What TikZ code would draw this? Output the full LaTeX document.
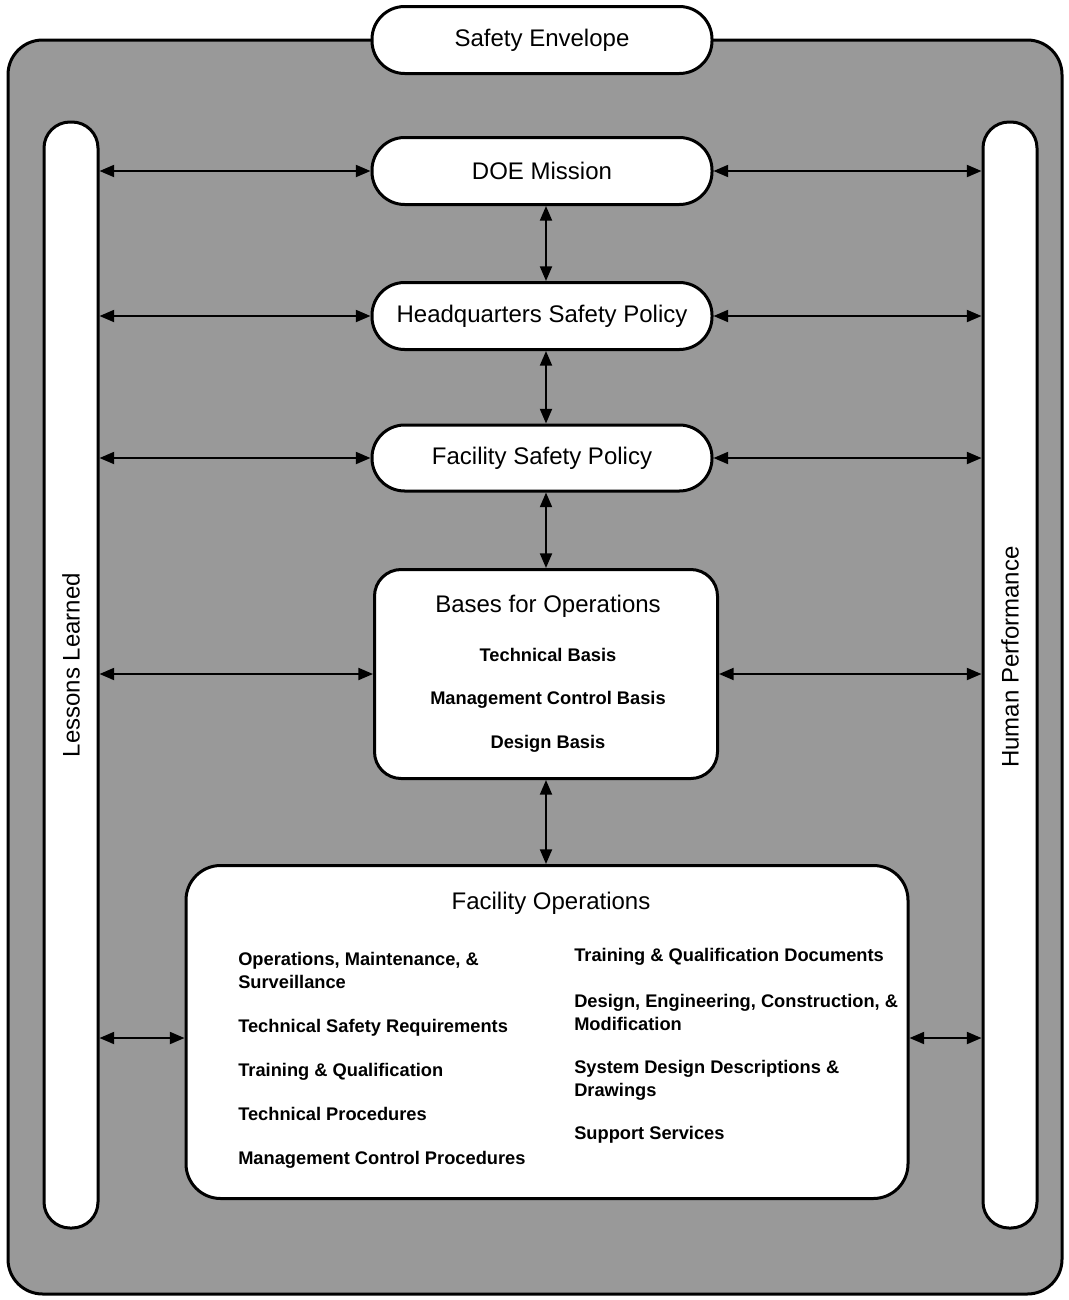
\documentclass[tikz,border=0pt]{standalone}
\usepackage{fontspec}
\setmainfont{Liberation Sans}
\usetikzlibrary{arrows.meta}
\definecolor{envgray}{gray}{0.6}
\begin{document}
\begin{tikzpicture}[x=0.75pt,y=-0.75pt,
  box/.style={draw, line width=2.25pt, fill=white, inner sep=0pt, font=\fontsize{18}{22}\selectfont},
  title/.style={inner sep=0pt, anchor=base, font=\fontsize{18}{22}\selectfont},
  vtitle/.style={inner sep=0pt, anchor=center, rotate=90, font=\fontsize{18}{22}\selectfont},
  item/.style={inner sep=0pt, anchor=base west, align=left, font=\bfseries\fontsize{13.7}{17.25}\selectfont},
  citem/.style={inner sep=0pt, anchor=base, font=\bfseries\fontsize{13.7}{17.25}\selectfont},
  link/.style={line width=1.5pt, {Triangle[length=11pt,width=9pt]}-{Triangle[length=11pt,width=9pt]}}
]
\useasboundingbox (0,0) rectangle (1068,1300);
% outer envelope
\node[draw, line width=2.25pt, fill=envgray, rounded corners=26pt, inner sep=0pt,
      minimum width=1054*0.75pt, minimum height=1254*0.75pt] (env) at (535,667) {};
\node[box, rounded corners=24.5pt, minimum width=340*0.75pt, minimum height=67*0.75pt] (se) at (542,40) {Safety Envelope};
% side pills
\node[draw, line width=2.25pt, fill=white, inner sep=0pt, rounded corners=19.5pt,
      minimum width=54*0.75pt, minimum height=1106*0.75pt] (ll) at (71,675) {};
\node[vtitle] (llt) at (71,665) {Lessons Learned};
\node[draw, line width=2.25pt, fill=white, inner sep=0pt, rounded corners=19.5pt,
      minimum width=54*0.75pt, minimum height=1106*0.75pt] (hp) at (1010,675) {};
\node[vtitle] (hpt) at (1010,657) {Human Performance};
% central chain
\node[box, rounded corners=24.5pt, minimum width=340*0.75pt, minimum height=67*0.75pt] (dm) at (542,171) {DOE Mission};
\node[box, rounded corners=24.5pt, minimum width=340*0.75pt, minimum height=67*0.75pt] (hq) at (542,316) {Headquarters Safety Policy};
\node[box, rounded corners=24.5pt, minimum width=340*0.75pt, minimum height=66*0.75pt] (fsp) at (542,458) {Facility Safety Policy};
\node[box, rounded corners=20pt, minimum width=343*0.75pt, minimum height=209*0.75pt] (bo) at (546,674) {};
\node[title] (bot) at (548,612) {Bases for Operations};
\node[citem] (bo1) at (548,661) {Technical Basis};
\node[citem] (bo2) at (548,704) {Management Control Basis};
\node[citem] (bo3) at (548,748) {Design Basis};
\node[box, rounded corners=26pt, minimum width=722*0.75pt, minimum height=333*0.75pt] (fo) at (547,1032) {};
\node[title] (fot) at (551,909) {Facility Operations};
% left column
\node[item] (l1) at (238,988) {Operations, Maintenance, \&\\Surveillance};
\node[item] (l2) at (238,1032) {Technical Safety Requirements};
\node[item] (l3) at (238,1076) {Training \& Qualification};
\node[item] (l4) at (238,1120) {Technical Procedures};
\node[item] (l5) at (238,1164) {Management Control Procedures};
% right column
\node[item] (r1) at (574,961) {Training \& Qualification Documents};
\node[item] (r2) at (574,1030) {Design, Engineering, Construction, \&\\Modification};
\node[item] (r3) at (574,1096) {System Design Descriptions \&\\Drawings};
\node[item] (r4) at (574,1139) {Support Services};
% horizontal links
\draw[link] (ll.east |- dm.west) -- (dm.west);
\draw[link] (dm.east) -- (hp.west |- dm.east);
\draw[link] (ll.east |- hq.west) -- (hq.west);
\draw[link] (hq.east) -- (hp.west |- hq.east);
\draw[link] (ll.east |- fsp.west) -- (fsp.west);
\draw[link] (fsp.east) -- (hp.west |- fsp.east);
\draw[link] (ll.east |- bo.west) -- (bo.west);
\draw[link] (bo.east) -- (hp.west |- bo.east);
\coordinate (fol) at ([yshift=-4.5pt]fo.west);
\coordinate (for) at ([yshift=-4.5pt]fo.east);
\draw[link] (ll.east |- fol) -- (fol);
\draw[link] (for) -- (hp.west |- for);
% vertical links
\coordinate (v1) at ([xshift=3pt]dm.south);
\coordinate (v2) at ([xshift=3pt]hq.south);
\coordinate (v3) at ([xshift=3pt]fsp.south);
\draw[link] (v1) -- (v1 |- hq.north);
\draw[link] (v2) -- (v2 |- fsp.north);
\draw[link] (v3) -- (v3 |- bo.north);
\draw[link] (bo.south) -- (bo.south |- fo.north);
\end{tikzpicture}
\end{document}
